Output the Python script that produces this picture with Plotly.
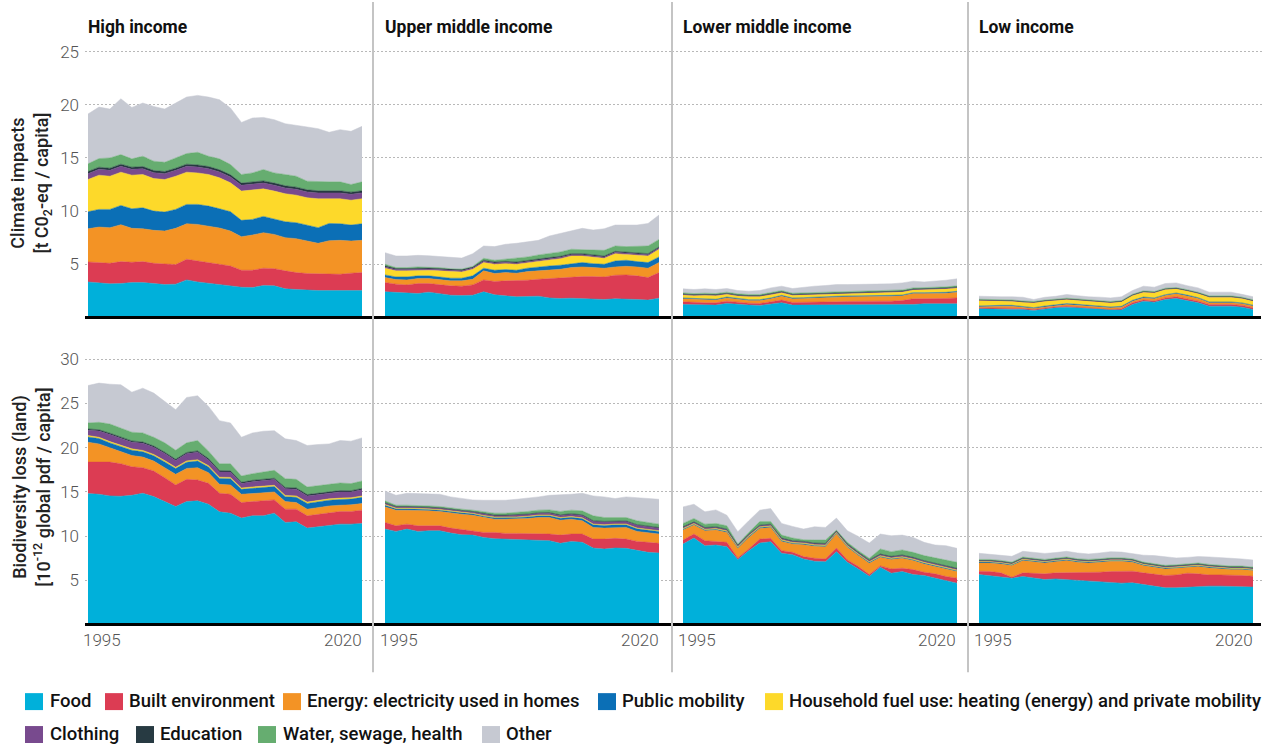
import plotly.graph_objects as go

# ---------------- data ----------------
YEARS = [1995, 1996, 1997, 1998, 1999, 2000, 2001, 2002, 2003, 2004, 2005, 2006, 2007,
         2008, 2009, 2010, 2011, 2012, 2013, 2014, 2015, 2016, 2017, 2018, 2019, 2020]
X_TICK_LABELS = ["1995", "2020"]
CATEGORIES = ["Food", "Built environment", "Energy: electricity used in homes", "Public mobility",
              "Household fuel use: heating (energy) and private mobility", "Clothing", "Education",
              "Water, sewage, health", "Other"]
COLORS = ["#00b0da", "#dc3c53", "#f39325", "#0b6fb6", "#fdd92a", "#784a8e", "#273a42", "#66ad70", "#c6c9d2"]
PANEL_TITLES = ["High income", "Upper middle income", "Lower middle income", "Low income"]
Y_TICKS_CLIMATE = [5, 10, 15, 20, 25]
Y_TICKS_BIO = [5, 10, 15, 20, 25, 30]
Y_TITLE_CLIMATE = "Climate impacts<br>[t C0<sub>2</sub>-eq / capita]"
Y_TITLE_BIO = "Biodiversity loss (land)<br>[10<sup>-12</sup> global pdf / capita]"

# High income - climate
hi_clim_food = [3.34, 3.25, 3.16, 3.19, 3.28, 3.28, 3.19, 3.09, 3.13, 3.53, 3.34, 3.22, 3.09, 3.00, 2.84, 2.81, 3.00, 2.97, 2.69, 2.63, 2.56, 2.53, 2.53, 2.53, 2.53, 2.53]
hi_clim_built = [1.88, 1.91, 1.93, 2.06, 1.91, 1.97, 1.90, 1.94, 1.84, 1.94, 1.97, 2.00, 1.97, 1.84, 1.60, 1.63, 1.63, 1.62, 1.69, 1.59, 1.57, 1.60, 1.60, 1.53, 1.63, 1.69]
hi_clim_energy = [3.12, 3.34, 3.35, 3.47, 3.19, 3.09, 3.10, 3.10, 3.41, 3.34, 3.44, 3.37, 3.35, 3.29, 3.15, 3.31, 3.34, 3.22, 3.12, 3.19, 3.03, 2.84, 3.09, 3.19, 3.03, 3.03]
hi_clim_public = [1.60, 1.66, 1.72, 1.81, 1.84, 1.97, 1.81, 1.78, 1.78, 1.82, 1.88, 1.88, 1.81, 1.81, 1.54, 1.47, 1.53, 1.47, 1.50, 1.50, 1.50, 1.47, 1.62, 1.56, 1.50, 1.56]
hi_clim_fuel = [3.03, 3.22, 3.12, 3.13, 3.16, 3.13, 3.06, 3.06, 3.12, 3.03, 2.96, 2.97, 2.91, 2.72, 2.75, 2.75, 2.59, 2.60, 2.63, 2.59, 2.59, 2.72, 2.35, 2.35, 2.34, 2.35]
hi_clim_clothing = [0.55, 0.55, 0.55, 0.55, 0.55, 0.55, 0.55, 0.55, 0.55, 0.55, 0.55, 0.55, 0.55, 0.55, 0.55, 0.55, 0.55, 0.55, 0.55, 0.55, 0.55, 0.55, 0.55, 0.55, 0.55, 0.55]
hi_clim_education = [0.20, 0.20, 0.20, 0.20, 0.20, 0.20, 0.20, 0.20, 0.20, 0.20, 0.20, 0.20, 0.20, 0.20, 0.20, 0.20, 0.20, 0.20, 0.20, 0.20, 0.20, 0.20, 0.20, 0.20, 0.20, 0.20]
hi_clim_water = [0.72, 0.81, 0.97, 0.90, 0.78, 0.97, 0.88, 0.87, 0.97, 1.00, 1.19, 0.97, 1.03, 0.97, 0.81, 0.87, 1.07, 0.96, 1.06, 1.03, 0.81, 0.84, 0.81, 0.84, 0.72, 0.84]
hi_clim_other = [4.69, 4.84, 4.59, 5.25, 4.84, 5.00, 5.15, 5.00, 5.16, 5.31, 5.35, 5.56, 5.56, 5.31, 4.90, 5.16, 4.90, 5.00, 4.78, 4.75, 5.10, 5.00, 4.66, 4.91, 5.00, 5.22]

# High income - biodiversity
hi_bio_food = [14.81, 14.74, 14.55, 14.51, 14.62, 14.85, 14.47, 13.91, 13.35, 13.91, 13.99, 13.61, 12.75, 12.60, 12.04, 12.30, 12.30, 12.60, 11.55, 11.62, 10.91, 11.06, 11.25, 11.36, 11.36, 11.44]
hi_bio_built = [3.56, 3.63, 3.82, 3.68, 3.23, 2.89, 2.89, 2.70, 2.44, 2.51, 2.36, 2.36, 2.10, 2.14, 1.76, 1.61, 1.69, 1.50, 1.50, 1.43, 1.39, 1.43, 1.42, 1.43, 1.43, 1.50]
hi_bio_energy = [2.25, 2.06, 1.62, 1.35, 1.27, 1.20, 1.13, 1.13, 1.20, 1.24, 1.39, 1.20, 1.01, 1.05, 0.94, 0.90, 0.93, 0.90, 0.86, 0.75, 0.75, 0.75, 0.75, 0.71, 0.75, 0.75]
hi_bio_public = [0.60, 0.60, 0.55, 0.55, 0.60, 0.60, 0.60, 0.65, 0.65, 0.70, 0.75, 0.65, 0.65, 0.70, 0.55, 0.60, 0.60, 0.60, 0.55, 0.60, 0.65, 0.65, 0.65, 0.65, 0.65, 0.70]
hi_bio_fuel = [0.15, 0.15, 0.15, 0.15, 0.15, 0.15, 0.15, 0.15, 0.15, 0.15, 0.15, 0.15, 0.15, 0.15, 0.15, 0.15, 0.15, 0.15, 0.15, 0.15, 0.15, 0.15, 0.15, 0.15, 0.15, 0.15]
hi_bio_clothing = [0.60, 0.70, 0.80, 0.80, 0.75, 0.80, 0.80, 0.80, 0.75, 0.80, 0.85, 0.65, 0.60, 0.60, 0.50, 0.60, 0.60, 0.65, 0.75, 0.75, 0.70, 0.65, 0.65, 0.70, 0.65, 0.70]
hi_bio_education = [0.15, 0.15, 0.15, 0.15, 0.15, 0.15, 0.15, 0.15, 0.15, 0.15, 0.15, 0.15, 0.15, 0.15, 0.15, 0.15, 0.15, 0.15, 0.15, 0.15, 0.15, 0.15, 0.15, 0.15, 0.15, 0.15]
hi_bio_water = [0.68, 0.84, 1.04, 1.04, 0.98, 1.03, 0.99, 1.06, 1.03, 1.09, 1.17, 0.84, 0.78, 0.80, 0.71, 0.75, 0.83, 0.89, 0.99, 0.97, 0.86, 0.83, 0.84, 0.86, 0.80, 0.85]
hi_bio_other = [4.23, 4.43, 4.50, 4.88, 4.53, 5.06, 4.99, 4.68, 4.58, 5.13, 5.06, 5.06, 4.87, 4.61, 4.38, 4.61, 4.61, 4.49, 4.50, 4.39, 4.69, 4.69, 4.57, 4.80, 4.80, 4.87]

# Upper middle income - climate
umi_clim_food = [2.41, 2.34, 2.31, 2.25, 2.38, 2.25, 2.09, 2.06, 2.09, 2.41, 2.13, 2.03, 1.94, 1.97, 2.00, 1.84, 1.78, 1.81, 1.75, 1.69, 1.69, 1.75, 1.75, 1.69, 1.63, 1.81]
umi_clim_built = [0.87, 0.79, 0.75, 0.94, 0.81, 0.81, 0.88, 0.88, 0.97, 1.12, 1.25, 1.41, 1.50, 1.53, 1.59, 1.82, 1.88, 1.94, 2.09, 2.15, 2.12, 2.22, 2.25, 2.22, 2.12, 2.41]
umi_clim_energy = [0.47, 0.43, 0.47, 0.47, 0.47, 0.47, 0.47, 0.50, 0.53, 0.85, 0.75, 0.78, 0.72, 0.81, 0.79, 0.81, 0.87, 0.94, 0.91, 0.85, 0.82, 0.78, 0.81, 0.84, 0.88, 0.94]
umi_clim_public = [0.25, 0.25, 0.28, 0.25, 0.25, 0.28, 0.25, 0.25, 0.32, 0.25, 0.31, 0.28, 0.28, 0.32, 0.37, 0.37, 0.38, 0.37, 0.41, 0.37, 0.37, 0.56, 0.57, 0.50, 0.53, 0.53]
umi_clim_fuel = [0.63, 0.57, 0.57, 0.53, 0.53, 0.57, 0.62, 0.59, 0.62, 0.53, 0.56, 0.56, 0.56, 0.53, 0.56, 0.57, 0.62, 0.72, 0.62, 0.63, 0.56, 0.69, 0.56, 0.63, 0.62, 0.72]
umi_clim_clothing = [0.12, 0.12, 0.12, 0.12, 0.12, 0.12, 0.12, 0.12, 0.12, 0.12, 0.12, 0.12, 0.12, 0.12, 0.12, 0.12, 0.12, 0.12, 0.12, 0.12, 0.12, 0.12, 0.12, 0.12, 0.12, 0.12]
umi_clim_education = [0.10, 0.10, 0.10, 0.10, 0.10, 0.10, 0.10, 0.10, 0.10, 0.10, 0.10, 0.10, 0.10, 0.10, 0.10, 0.10, 0.10, 0.10, 0.10, 0.10, 0.10, 0.10, 0.10, 0.10, 0.10, 0.10]
umi_clim_water = [0.15, 0.09, 0.09, 0.09, 0.05, 0.09, 0.05, 0.05, 0.05, 0.18, 0.16, 0.19, 0.34, 0.31, 0.35, 0.37, 0.41, 0.41, 0.34, 0.43, 0.53, 0.50, 0.50, 0.56, 0.72, 0.71]
umi_clim_other = [1.09, 1.09, 1.09, 1.09, 1.09, 1.03, 1.10, 1.03, 1.19, 1.16, 1.28, 1.41, 1.41, 1.40, 1.37, 1.66, 1.72, 1.72, 2.04, 1.88, 2.03, 1.97, 2.03, 2.03, 2.12, 2.29]

# Upper middle income - biodiversity
umi_bio_food = [10.80, 10.54, 10.80, 10.54, 10.61, 10.61, 10.35, 10.16, 10.12, 9.86, 9.71, 9.67, 9.60, 9.56, 9.56, 9.49, 9.19, 9.41, 9.30, 8.66, 8.55, 8.66, 8.62, 8.36, 8.17, 8.10]
umi_bio_built = [0.75, 0.63, 0.56, 0.63, 0.56, 0.56, 0.56, 0.56, 0.49, 0.56, 0.71, 0.64, 0.71, 0.75, 0.68, 0.75, 0.93, 0.83, 0.94, 1.01, 1.12, 1.09, 1.05, 1.05, 1.13, 1.09]
umi_bio_energy = [1.76, 1.77, 1.58, 1.77, 1.69, 1.62, 1.69, 1.77, 1.76, 1.69, 1.50, 1.61, 1.61, 1.69, 1.87, 1.87, 1.69, 1.68, 1.50, 1.32, 1.24, 1.24, 1.32, 1.13, 1.05, 1.05]
umi_bio_public = [0.18, 0.15, 0.15, 0.15, 0.15, 0.15, 0.15, 0.15, 0.15, 0.15, 0.17, 0.17, 0.18, 0.18, 0.20, 0.20, 0.22, 0.22, 0.25, 0.30, 0.30, 0.30, 0.30, 0.30, 0.30, 0.30]
umi_bio_fuel = [0.08, 0.08, 0.08, 0.08, 0.08, 0.08, 0.08, 0.08, 0.08, 0.08, 0.08, 0.08, 0.08, 0.08, 0.08, 0.08, 0.08, 0.08, 0.08, 0.08, 0.08, 0.08, 0.08, 0.08, 0.08, 0.08]
umi_bio_clothing = [0.15, 0.13, 0.13, 0.13, 0.13, 0.13, 0.13, 0.13, 0.13, 0.15, 0.15, 0.15, 0.17, 0.18, 0.20, 0.20, 0.22, 0.24, 0.26, 0.30, 0.30, 0.28, 0.28, 0.30, 0.30, 0.28]
umi_bio_education = [0.06, 0.06, 0.06, 0.06, 0.06, 0.06, 0.06, 0.06, 0.06, 0.06, 0.06, 0.06, 0.06, 0.06, 0.06, 0.08, 0.08, 0.08, 0.08, 0.08, 0.08, 0.08, 0.08, 0.08, 0.08, 0.08]
umi_bio_water = [0.21, 0.14, 0.14, 0.14, 0.14, 0.14, 0.14, 0.14, 0.15, 0.20, 0.22, 0.22, 0.26, 0.29, 0.29, 0.30, 0.38, 0.40, 0.45, 0.55, 0.44, 0.38, 0.38, 0.44, 0.44, 0.38]
umi_bio_other = [1.12, 1.12, 1.35, 1.31, 1.32, 1.39, 1.28, 1.24, 1.16, 1.31, 1.46, 1.46, 1.50, 1.50, 1.50, 1.65, 1.87, 1.80, 1.99, 2.25, 2.33, 2.14, 2.33, 2.62, 2.74, 2.81]

# Lower middle income - climate
lmi_clim_food = [1.22, 1.19, 1.19, 1.16, 1.31, 1.22, 1.16, 1.13, 1.22, 1.38, 1.16, 1.16, 1.16, 1.16, 1.16, 1.16, 1.16, 1.16, 1.16, 1.19, 1.19, 1.22, 1.28, 1.28, 1.28, 1.28]
lmi_clim_built = [0.25, 0.22, 0.19, 0.22, 0.22, 0.22, 0.18, 0.18, 0.25, 0.25, 0.25, 0.25, 0.28, 0.31, 0.31, 0.34, 0.37, 0.37, 0.37, 0.34, 0.40, 0.53, 0.47, 0.50, 0.50, 0.56]
lmi_clim_energy = [0.28, 0.28, 0.31, 0.25, 0.31, 0.25, 0.25, 0.28, 0.28, 0.37, 0.34, 0.37, 0.40, 0.44, 0.44, 0.44, 0.41, 0.47, 0.47, 0.47, 0.44, 0.50, 0.50, 0.47, 0.50, 0.54]
lmi_clim_public = [0.08, 0.08, 0.08, 0.08, 0.08, 0.08, 0.08, 0.08, 0.08, 0.08, 0.08, 0.08, 0.08, 0.08, 0.08, 0.08, 0.08, 0.08, 0.08, 0.08, 0.08, 0.08, 0.08, 0.08, 0.08, 0.08]
lmi_clim_fuel = [0.28, 0.28, 0.31, 0.34, 0.26, 0.25, 0.29, 0.29, 0.31, 0.25, 0.25, 0.25, 0.26, 0.22, 0.28, 0.25, 0.25, 0.25, 0.25, 0.28, 0.28, 0.25, 0.25, 0.31, 0.32, 0.31]
lmi_clim_clothing = [0.06, 0.06, 0.06, 0.06, 0.06, 0.06, 0.06, 0.06, 0.06, 0.06, 0.06, 0.06, 0.06, 0.06, 0.06, 0.06, 0.06, 0.06, 0.06, 0.06, 0.06, 0.06, 0.06, 0.06, 0.06, 0.06]
lmi_clim_education = [0.04, 0.04, 0.04, 0.04, 0.04, 0.04, 0.04, 0.04, 0.04, 0.04, 0.04, 0.04, 0.04, 0.04, 0.04, 0.04, 0.04, 0.04, 0.04, 0.04, 0.04, 0.04, 0.04, 0.04, 0.04, 0.04]
lmi_clim_water = [0.10, 0.10, 0.10, 0.10, 0.10, 0.10, 0.10, 0.10, 0.10, 0.10, 0.10, 0.10, 0.10, 0.10, 0.10, 0.10, 0.10, 0.10, 0.10, 0.10, 0.10, 0.10, 0.10, 0.10, 0.10, 0.10]
lmi_clim_other = [0.38, 0.38, 0.41, 0.38, 0.34, 0.31, 0.31, 0.37, 0.44, 0.41, 0.44, 0.53, 0.56, 0.59, 0.62, 0.62, 0.62, 0.56, 0.63, 0.60, 0.66, 0.63, 0.56, 0.57, 0.62, 0.66]

# Lower middle income - biodiversity
lmi_bio_food = [9.11, 9.79, 8.92, 9.00, 8.81, 7.35, 8.36, 9.22, 9.37, 8.06, 7.91, 7.42, 7.16, 7.12, 8.25, 7.05, 6.30, 5.47, 6.49, 5.81, 6.00, 5.66, 5.55, 5.29, 4.99, 4.69]
lmi_bio_built = [0.45, 0.45, 0.57, 0.41, 0.49, 0.19, 0.19, 0.45, 0.38, 0.30, 0.26, 0.27, 0.34, 0.30, 0.41, 0.26, 0.26, 0.19, 0.15, 0.49, 0.37, 0.56, 0.37, 0.45, 0.45, 0.56]
lmi_bio_energy = [1.13, 1.01, 1.12, 1.28, 1.12, 1.08, 1.31, 1.20, 1.24, 1.05, 0.94, 1.35, 1.35, 1.39, 1.58, 1.43, 1.24, 1.28, 0.97, 1.05, 1.13, 1.02, 0.94, 0.82, 0.86, 0.75]
lmi_bio_public = [0.10, 0.10, 0.10, 0.10, 0.10, 0.10, 0.10, 0.10, 0.10, 0.10, 0.10, 0.10, 0.10, 0.10, 0.10, 0.10, 0.10, 0.10, 0.10, 0.10, 0.10, 0.10, 0.10, 0.10, 0.10, 0.10]
lmi_bio_fuel = [0.08, 0.08, 0.08, 0.08, 0.08, 0.08, 0.08, 0.08, 0.08, 0.08, 0.08, 0.08, 0.08, 0.08, 0.08, 0.08, 0.08, 0.08, 0.08, 0.08, 0.08, 0.08, 0.08, 0.08, 0.08, 0.08]
lmi_bio_clothing = [0.12, 0.12, 0.12, 0.12, 0.12, 0.12, 0.12, 0.12, 0.12, 0.12, 0.12, 0.12, 0.12, 0.12, 0.12, 0.12, 0.12, 0.12, 0.12, 0.12, 0.12, 0.12, 0.12, 0.12, 0.12, 0.12]
lmi_bio_education = [0.07, 0.07, 0.07, 0.07, 0.07, 0.07, 0.07, 0.07, 0.07, 0.07, 0.07, 0.07, 0.07, 0.07, 0.07, 0.07, 0.07, 0.07, 0.07, 0.07, 0.07, 0.07, 0.07, 0.07, 0.07, 0.07]
lmi_bio_water = [0.38, 0.38, 0.38, 0.38, 0.38, 0.12, 0.19, 0.42, 0.30, 0.34, 0.31, 0.19, 0.34, 0.38, 0.08, 0.19, 0.19, 0.19, 0.57, 0.53, 0.57, 0.56, 0.57, 0.61, 0.57, 0.68]
lmi_bio_other = [1.87, 1.61, 1.39, 1.53, 1.20, 1.39, 1.32, 1.28, 1.46, 1.32, 1.31, 1.20, 1.50, 1.43, 1.35, 1.31, 1.61, 1.72, 1.69, 1.80, 1.68, 1.69, 1.50, 1.46, 1.68, 1.57]

# Low income - climate
li_clim_food = [0.81, 0.81, 0.81, 0.81, 0.75, 0.66, 0.81, 0.91, 0.97, 0.91, 0.81, 0.75, 0.69, 0.69, 1.22, 1.53, 1.44, 1.69, 1.78, 1.59, 1.38, 1.06, 1.06, 1.06, 0.97, 0.75]
li_clim_built = [0.10, 0.10, 0.10, 0.10, 0.09, 0.09, 0.09, 0.09, 0.09, 0.09, 0.09, 0.09, 0.06, 0.12, 0.16, 0.10, 0.10, 0.15, 0.16, 0.15, 0.15, 0.16, 0.16, 0.16, 0.16, 0.16]
li_clim_energy = [0.09, 0.15, 0.15, 0.15, 0.12, 0.09, 0.09, 0.12, 0.16, 0.15, 0.16, 0.16, 0.16, 0.16, 0.15, 0.21, 0.22, 0.22, 0.28, 0.28, 0.25, 0.16, 0.16, 0.16, 0.16, 0.16]
li_clim_public = [0.08, 0.08, 0.08, 0.08, 0.08, 0.08, 0.08, 0.08, 0.08, 0.08, 0.08, 0.08, 0.08, 0.08, 0.08, 0.08, 0.08, 0.08, 0.08, 0.08, 0.08, 0.08, 0.08, 0.08, 0.08, 0.08]
li_clim_fuel = [0.51, 0.45, 0.39, 0.39, 0.39, 0.46, 0.45, 0.38, 0.39, 0.39, 0.39, 0.39, 0.39, 0.42, 0.45, 0.46, 0.48, 0.49, 0.39, 0.39, 0.39, 0.45, 0.45, 0.45, 0.42, 0.39]
li_clim_clothing = [0.04, 0.04, 0.04, 0.04, 0.04, 0.04, 0.04, 0.04, 0.04, 0.04, 0.04, 0.04, 0.04, 0.04, 0.04, 0.04, 0.04, 0.04, 0.04, 0.04, 0.04, 0.04, 0.04, 0.04, 0.04, 0.04]
li_clim_education = [0.03, 0.03, 0.03, 0.03, 0.03, 0.03, 0.03, 0.03, 0.03, 0.03, 0.03, 0.03, 0.03, 0.03, 0.03, 0.03, 0.03, 0.03, 0.03, 0.03, 0.03, 0.03, 0.03, 0.03, 0.03, 0.03]
li_clim_water = [0.05, 0.05, 0.05, 0.05, 0.05, 0.05, 0.05, 0.05, 0.05, 0.05, 0.05, 0.05, 0.05, 0.05, 0.05, 0.05, 0.05, 0.05, 0.05, 0.05, 0.05, 0.05, 0.05, 0.05, 0.05, 0.05]
li_clim_other = [0.29, 0.23, 0.29, 0.29, 0.35, 0.19, 0.26, 0.29, 0.35, 0.31, 0.29, 0.32, 0.34, 0.35, 0.35, 0.44, 0.41, 0.44, 0.44, 0.38, 0.41, 0.35, 0.35, 0.35, 0.26, 0.29]

# Low income - biodiversity
li_bio_food = [5.66, 5.55, 5.44, 5.25, 5.44, 5.25, 5.10, 5.17, 5.10, 4.99, 4.91, 4.87, 4.80, 4.69, 4.72, 4.54, 4.31, 4.16, 4.16, 4.24, 4.35, 4.35, 4.35, 4.31, 4.31, 4.24]
li_bio_built = [0.38, 0.45, 0.41, 0.11, 0.41, 0.56, 0.64, 0.68, 0.75, 0.86, 0.94, 1.05, 1.20, 1.31, 1.32, 1.31, 1.35, 1.39, 1.46, 1.57, 1.39, 1.27, 1.27, 1.31, 1.24, 1.23]
li_bio_energy = [0.93, 0.97, 1.01, 1.31, 1.39, 1.31, 1.23, 1.27, 1.39, 1.20, 1.12, 1.13, 1.16, 1.16, 1.01, 0.82, 0.83, 0.75, 0.75, 0.68, 0.82, 0.79, 0.68, 0.60, 0.67, 0.64]
li_bio_public = [0.10, 0.10, 0.10, 0.10, 0.10, 0.10, 0.10, 0.10, 0.10, 0.10, 0.10, 0.10, 0.10, 0.10, 0.10, 0.10, 0.10, 0.10, 0.10, 0.10, 0.10, 0.10, 0.10, 0.10, 0.10, 0.10]
li_bio_fuel = [0.07, 0.07, 0.07, 0.07, 0.07, 0.07, 0.07, 0.07, 0.07, 0.07, 0.07, 0.07, 0.07, 0.07, 0.07, 0.07, 0.07, 0.07, 0.07, 0.07, 0.07, 0.07, 0.07, 0.07, 0.07, 0.07]
li_bio_clothing = [0.08, 0.08, 0.08, 0.08, 0.08, 0.08, 0.08, 0.08, 0.08, 0.08, 0.08, 0.08, 0.08, 0.08, 0.08, 0.08, 0.08, 0.08, 0.08, 0.08, 0.08, 0.08, 0.08, 0.08, 0.08, 0.08]
li_bio_education = [0.05, 0.05, 0.05, 0.05, 0.05, 0.05, 0.05, 0.05, 0.05, 0.05, 0.05, 0.05, 0.05, 0.05, 0.05, 0.05, 0.05, 0.05, 0.05, 0.05, 0.05, 0.05, 0.05, 0.05, 0.05, 0.05]
li_bio_water = [0.10, 0.10, 0.10, 0.10, 0.10, 0.10, 0.10, 0.10, 0.10, 0.10, 0.10, 0.10, 0.10, 0.10, 0.10, 0.10, 0.10, 0.10, 0.10, 0.10, 0.10, 0.10, 0.10, 0.10, 0.10, 0.10]
li_bio_other = [0.69, 0.58, 0.54, 0.65, 0.65, 0.68, 0.68, 0.63, 0.65, 0.65, 0.62, 0.65, 0.69, 0.64, 0.55, 0.78, 0.91, 1.00, 0.77, 0.71, 0.73, 0.84, 0.91, 0.88, 0.80, 0.80]

CLIMATE_PANELS = [
    [hi_clim_food, hi_clim_built, hi_clim_energy, hi_clim_public, hi_clim_fuel, hi_clim_clothing, hi_clim_education, hi_clim_water, hi_clim_other],
    [umi_clim_food, umi_clim_built, umi_clim_energy, umi_clim_public, umi_clim_fuel, umi_clim_clothing, umi_clim_education, umi_clim_water, umi_clim_other],
    [lmi_clim_food, lmi_clim_built, lmi_clim_energy, lmi_clim_public, lmi_clim_fuel, lmi_clim_clothing, lmi_clim_education, lmi_clim_water, lmi_clim_other],
    [li_clim_food, li_clim_built, li_clim_energy, li_clim_public, li_clim_fuel, li_clim_clothing, li_clim_education, li_clim_water, li_clim_other],
]
BIO_PANELS = [
    [hi_bio_food, hi_bio_built, hi_bio_energy, hi_bio_public, hi_bio_fuel, hi_bio_clothing, hi_bio_education, hi_bio_water, hi_bio_other],
    [umi_bio_food, umi_bio_built, umi_bio_energy, umi_bio_public, umi_bio_fuel, umi_bio_clothing, umi_bio_education, umi_bio_water, umi_bio_other],
    [lmi_bio_food, lmi_bio_built, lmi_bio_energy, lmi_bio_public, lmi_bio_fuel, lmi_bio_clothing, lmi_bio_education, lmi_bio_water, lmi_bio_other],
    [li_bio_food, li_bio_built, li_bio_energy, li_bio_public, li_bio_fuel, li_bio_clothing, li_bio_education, li_bio_water, li_bio_other],
]

# ---------------- layout geometry (pixels) ----------------
W, H = 1266, 744
FONT = "Roboto"
PANEL_EDGES = [(85, 373), (373, 672), (672, 968), (968, 1263)]
DATA_START = [88, 385, 683, 979]
DATA_END = [362, 659, 956, 1253]
PX_PER_YEAR = (362 - 88) / (YEARS[-1] - YEARS[0])
ROWS = [
    dict(panels=CLIMATE_PANELS, zero=316.3, ppu=10.664, top=40, ticks=Y_TICKS_CLIMATE,
         title=Y_TITLE_CLIMATE, title_y=182),
    dict(panels=BIO_PANELS, zero=624.3, ppu=8.87, top=350, ticks=Y_TICKS_BIO,
         title=Y_TITLE_BIO, title_y=487),
]
SEPARATORS_X = [373, 672, 968]


def px(v):
    return v / W


def py(v):
    return 1 - v / H


fig = go.Figure()
layout_axes = {}
annotations = []
shapes = []

for r, row in enumerate(ROWS):
    for c in range(4):
        i = r * 4 + c + 1
        sfx = "" if i == 1 else str(i)
        e0, e1 = PANEL_EDGES[c]
        r0 = YEARS[0] - (DATA_START[c] - e0) / PX_PER_YEAR
        r1 = r0 + (e1 - e0) / PX_PER_YEAR
        layout_axes["xaxis" + sfx] = dict(
            domain=[px(e0), px(e1)], range=[r0, r1], anchor="y" + sfx,
            showgrid=False, zeroline=False, showline=False, showticklabels=False,
            ticks="", fixedrange=True)
        ytop = (row["zero"] - row["top"]) / row["ppu"]
        layout_axes["yaxis" + sfx] = dict(
            domain=[py(row["zero"]), py(row["top"])], range=[0, ytop], anchor="x" + sfx,
            tickvals=row["ticks"], showticklabels=(c == 0), showgrid=True,
            gridcolor="#b8b8b8", gridwidth=1, griddash="1.5px,2.5px",
            zeroline=False, showline=False, ticks="",
            ticklabelstandoff=5,
            tickfont=dict(family=FONT, size=17, color="#555555", weight=300),
            fixedrange=True)

        series = row["panels"][c]
        for k, vals in enumerate(series):
            fig.add_trace(go.Scatter(
                x=YEARS, y=vals, stackgroup="s" + str(i), mode="lines",
                line=dict(width=0.5, color=COLORS[k]), fillcolor=COLORS[k],
                name=CATEGORIES[k], showlegend=False,
                xaxis="x" + sfx, yaxis="y" + sfx,
                hovertemplate="%{x}: %{y:.2f}<extra>" + CATEGORIES[k] + "</extra>"))

        # x tick labels (first and last year)
        if r == 1:
            annotations.append(dict(
                x=px(DATA_START[c] - 7), y=py(640), xref="paper", yref="paper",
                text=X_TICK_LABELS[0], showarrow=False, xanchor="left", yanchor="middle",
                font=dict(family=FONT, size=17, color="#555555", weight=300)))
            annotations.append(dict(
                x=px(DATA_END[c] + 2), y=py(640), xref="paper", yref="paper",
                text=X_TICK_LABELS[1], showarrow=False, xanchor="right", yanchor="middle",
                font=dict(family=FONT, size=17, color="#555555", weight=300)))
        if r == 0:
            annotations.append(dict(
                x=px(DATA_START[c] - 2), y=py(25), xref="paper", yref="paper",
                text="<b>" + PANEL_TITLES[c] + "</b>", showarrow=False,
                xanchor="left", yanchor="middle",
                font=dict(family=FONT, size=17.5, color="#111111")))

    # baseline
    shapes.append(dict(type="line", xref="paper", yref="paper",
                       x0=px(85), x1=px(1261), y0=py(row["zero"]), y1=py(row["zero"]),
                       line=dict(color="#000000", width=3), layer="above"))
    # y axis title
    annotations.append(dict(
        x=px(31), y=py(row["title_y"]), xref="paper", yref="paper", text=row["title"],
        showarrow=False, textangle=-90, xanchor="center", yanchor="middle", align="center",
        font=dict(family=FONT, size=18, color="#222222", weight=500)))

# panel separators
for sx in SEPARATORS_X:
    shapes.append(dict(type="line", xref="paper", yref="paper",
                       x0=px(sx), x1=px(sx), y0=py(0), y1=py(672),
                       line=dict(color="#c4c4c4", width=2), layer="above"))

# manual legend: (square left px, text left px, row center px)
LEGEND_POS = [(25, 48, 701), (105, 127, 701), (283, 305, 701), (598, 620, 701), (765, 787, 701),
              (25, 48, 734), (136, 158, 734), (258, 281, 734), (482, 504, 734)]
for k, (sx, tx, cy) in enumerate(LEGEND_POS):
    shapes.append(dict(type="rect", xref="paper", yref="paper",
                       x0=px(sx), x1=px(sx + 18), y0=py(cy + 9), y1=py(cy - 8),
                       fillcolor=COLORS[k], line=dict(width=0)))
    annotations.append(dict(
        x=px(tx), y=py(cy), xref="paper", yref="paper", text=CATEGORIES[k],
        showarrow=False, xanchor="left", yanchor="middle",
        font=dict(family=FONT, size=18.5, color="#111111", weight=500)))

fig.update_layout(
    width=W, height=H, margin=dict(l=0, r=0, t=0, b=0),
    paper_bgcolor="white", plot_bgcolor="white",
    showlegend=False, annotations=annotations, shapes=shapes,
    font=dict(family=FONT),
    **layout_axes)

fig.write_html("out.html", include_plotlyjs=True, config={"displayModeBar": False},
               post_script="document.body.style.margin='0';document.body.style.overflow='hidden';")
